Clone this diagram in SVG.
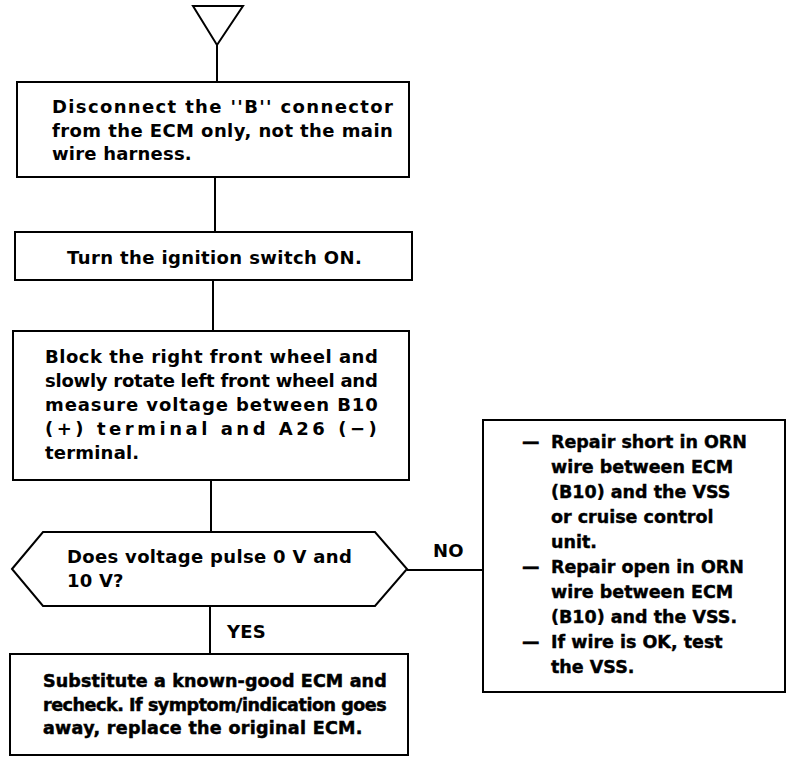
<svg xmlns="http://www.w3.org/2000/svg" width="800" height="764" viewBox="0 0 800 764">
<style>
.box{fill:#fff;stroke:#000;stroke-width:2}
.ln{fill:none;stroke:#000;stroke-width:2}
text{font-family:"DejaVu Sans","Liberation Sans",Arial,sans-serif;font-weight:bold;fill:#000}
.t{font-size:18px;letter-spacing:0.2px}
.r{font-size:17.5px;stroke:#000;stroke-width:0.4}
.k{font-size:17.5px;letter-spacing:0.3px;stroke:#000;stroke-width:0.5}
</style>
<rect width="800" height="764" fill="#fff"/>
<g id="connectors">
<path class="ln" d="M217 45V82M215 177V232M213 280V331M211 480V532M210 606V654M407 570H483"/>
<text class="t" x="433" y="557">NO</text>
<text class="t" x="227" y="638">YES</text>
</g>
<g id="start">
<path class="ln" d="M193 6H243L217 45Z"/>
</g>
<g id="n1">
<rect class="box" x="17" y="82" width="392" height="95"/>
<text class="t" x="52" y="113" textLength="341" lengthAdjust="spacing">Disconnect the ''B'' connector</text>
<text class="t" x="52" y="137" textLength="341" lengthAdjust="spacing">from the ECM only, not the main</text>
<text class="t" x="52" y="160">wire harness.</text>
</g>
<g id="n2">
<rect class="box" x="15" y="232" width="397" height="48"/>
<text class="t" x="67" y="264" textLength="295" lengthAdjust="spacing">Turn the ignition switch ON.</text>
</g>
<g id="n3">
<rect class="box" x="13" y="331" width="396" height="149"/>
<text class="t" x="45" y="363" textLength="333" lengthAdjust="spacing">Block the right front wheel and</text>
<text class="t" x="45" y="387" textLength="333" lengthAdjust="spacing">slowly rotate left front wheel and</text>
<text class="t" x="45" y="411" textLength="333" lengthAdjust="spacing">measure voltage between B10</text>
<text class="t" x="45" y="435" textLength="332" lengthAdjust="spacing">(+) terminal and A26 (−)</text>
<text class="t" x="45" y="459">terminal.</text>
</g>
<g id="decision">
<path class="box" d="M12 569L43 532H375L407 569L375 606H43Z"/>
<text class="t" x="67" y="563" textLength="285" lengthAdjust="spacing">Does voltage pulse 0 V and</text>
<text class="t" x="67" y="587">10 V?</text>
</g>
<g id="no-box">
<rect class="box" x="483" y="420" width="302" height="272"/>
<text class="r" x="522" y="448">—</text>
<text class="r" x="551" y="448">Repair short in ORN</text>
<text class="r" x="551" y="473">wire between ECM</text>
<text class="r" x="551" y="498">(B10) and the VSS</text>
<text class="r" x="551" y="523">or cruise control</text>
<text class="r" x="551" y="548">unit.</text>
<text class="r" x="522" y="573">—</text>
<text class="r" x="551" y="573">Repair open in ORN</text>
<text class="r" x="551" y="598">wire between ECM</text>
<text class="r" x="551" y="623">(B10) and the VSS.</text>
<text class="r" x="522" y="648">—</text>
<text class="r" x="551" y="648">If wire is OK, test</text>
<text class="r" x="551" y="673">the VSS.</text>
</g>
<g id="yes-box">
<rect class="box" x="10" y="654" width="398" height="101"/>
<text class="k" x="43" y="687" textLength="344" lengthAdjust="spacing">Substitute a known-good ECM and</text>
<text class="k" x="43" y="711" textLength="344" lengthAdjust="spacing">recheck. If symptom/indication goes</text>
<text class="k" x="43" y="734">away, replace the original ECM.</text>
</g>
</svg>
